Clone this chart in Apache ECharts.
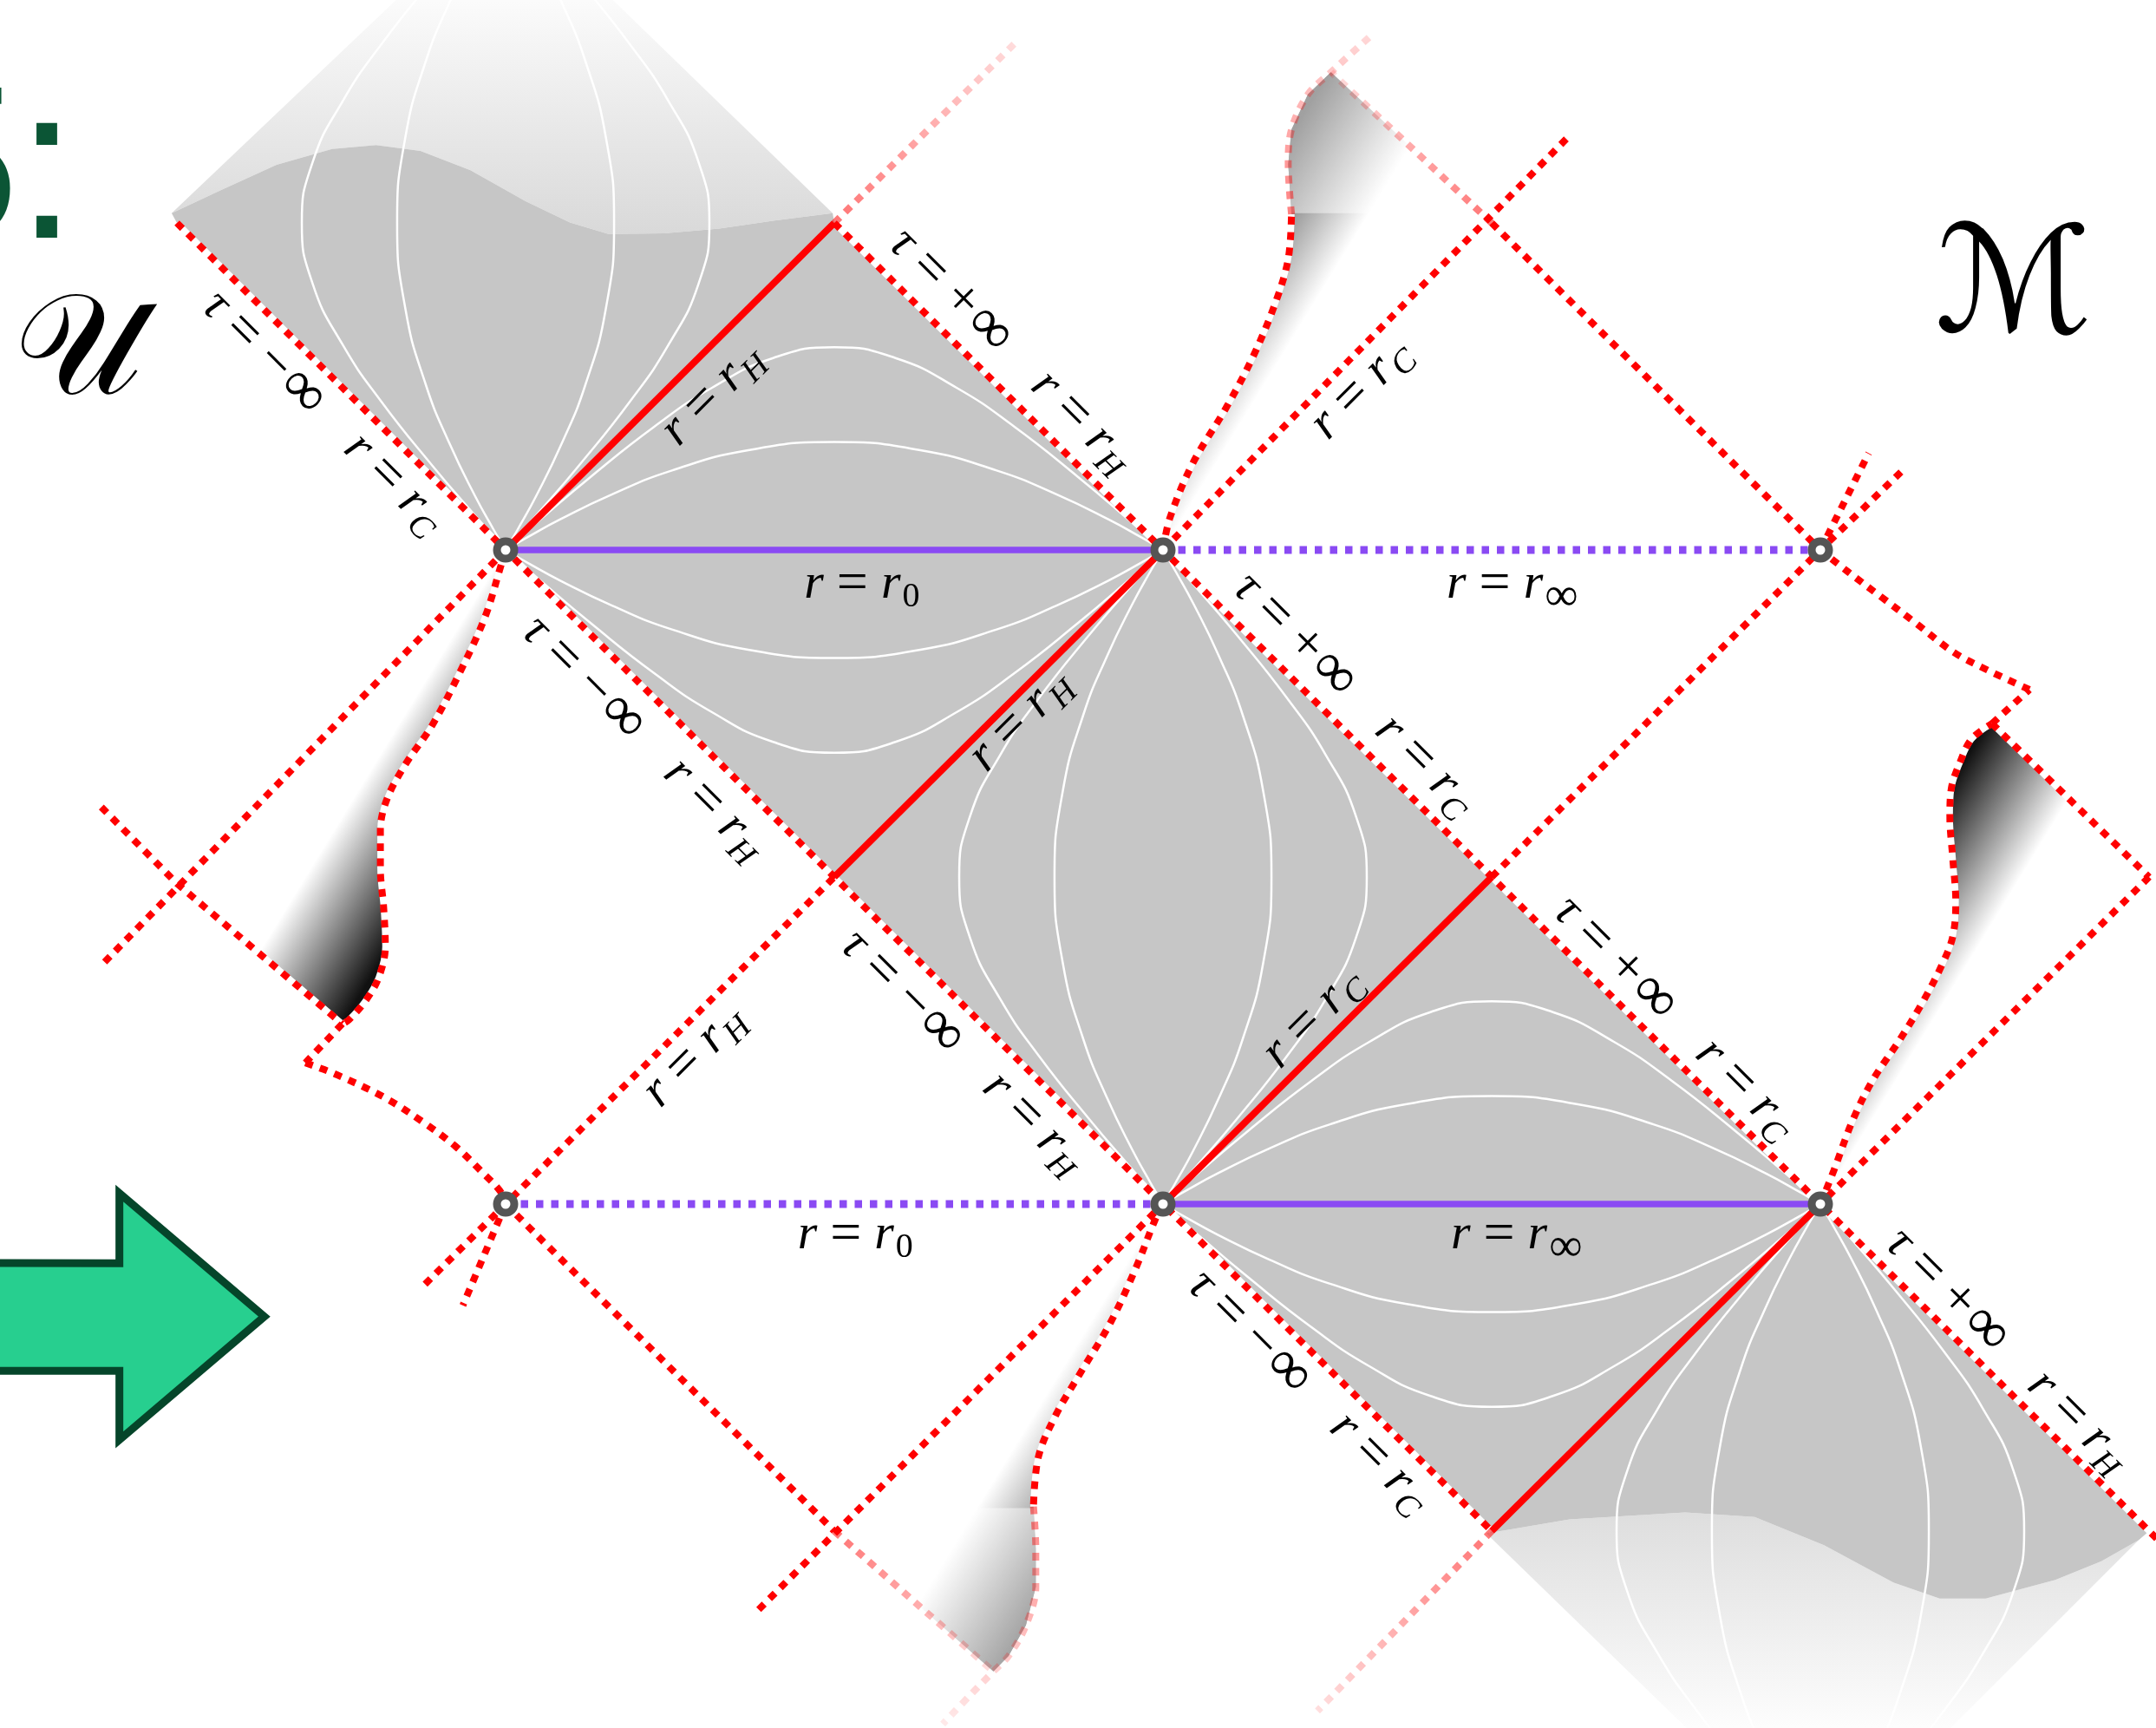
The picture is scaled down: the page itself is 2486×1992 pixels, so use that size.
<!DOCTYPE html>
<html>
<head>
<meta charset="utf-8">
<script src="https://cdn.jsdelivr.net/npm/echarts@6.0.0/dist/echarts.min.js"></script>
<style>html,body{margin:0;padding:0;background:#fff;}#chart{width:2486px;height:1992px;}</style>
</head>
<body>
<div id="chart"></div>
<script>
// ===== geometry (lattice units, nodes 2 apart) =====
const nodes = [[0,0],[2,0],[4,0],[0,-2],[2,-2],[4,-2]];
const purpleSolid = [[[0,0],[2,0]],[[2,-2],[4,-2]]];
const purpleDotted = [[[2,0],[4,0]],[[0,-2],[2,-2]]];
const redSolid = [[[0,0],[1,1]],[[1,-1],[2,0]],[[2,-2],[3,-1]],[[3,-3],[4,-2]]];
const redDotted = [
  [[-1,1],[3,-3]],
  [[1,1],[5.05,-3.05]],
  [[3,1],[4,0]],
  [[-1.23,-0.786],[-1.0,-1.02],[-0.497,-1.449]],
  [[0,-2],[1,-3]],
  [[-1.22,-1.26],[0,0]],
  [[-0.245,-2.245],[1,-1]],
  [[2,0],[3.23,1.26]],
  [[0.77,-3.24],[2,-2]],
  [[3,-1],[4,0],[4.257,0.25]],
  [[5,-1],[4,-2]],
  [[4.522,-0.531],[5,-1]],
  [[0,-2],[-0.13,-2.31]],
  [[4,0],[4.147,0.296]],
  [[-0.497,-1.449],[-0.609,-1.568]],
  [[4.522,-0.531],[4.636,-0.427]]
];
const hornA = [[0,0],[-0.012,-0.04],[-0.063,-0.206],[-0.144,-0.384],[-0.224,-0.537],[-0.305,-0.656],[-0.361,-0.762],[-0.381,-0.857],[-0.381,-0.976],[-0.371,-1.094],[-0.366,-1.212],[-0.386,-1.307],[-0.426,-1.378],[-0.477,-1.437],[-0.497,-1.449]];
const linkAD = [[-0.609,-1.568],[-0.515,-1.604],[-0.367,-1.675],[-0.246,-1.753],[-0.152,-1.824],[-0.071,-1.903],[-0.017,-1.96],[0,-2]];
const hornF = [[4,-2],[4.04,-1.9],[4.10,-1.74],[4.16,-1.62],[4.24,-1.5],[4.311,-1.383],[4.372,-1.264],[4.403,-1.181],[4.412,-1.075],[4.403,-0.945],[4.394,-0.814],[4.398,-0.732],[4.425,-0.649],[4.46,-0.578],[4.522,-0.531]];
const linkFC = [[4.636,-0.427],[4.506,-0.366],[4.406,-0.313],[4.287,-0.221],[4.187,-0.145],[4.087,-0.069],[4,0]];
const hornB = [[2,0],[2.021,0.098],[2.091,0.266],[2.191,0.433],[2.271,0.585],[2.341,0.753],[2.381,0.89],[2.391,1.027]];
const hornBFaded = [[2.391,1.027],[2.381,1.179],[2.391,1.286],[2.441,1.393],[2.511,1.461],[2.63,1.57]];
const hornE = [[2,-2],[1.976,-2.048],[1.916,-2.199],[1.84,-2.363],[1.749,-2.516],[1.674,-2.645],[1.621,-2.773],[1.606,-2.925]];
const hornEFaded = [[1.606,-2.925],[1.613,-3.054],[1.613,-3.171],[1.583,-3.288],[1.53,-3.382],[1.484,-3.429],[1.416,-3.499],[1.33,-3.59]];
const fadedLines = [[[1,1],[1.56,1.56]],[[3,1],[2.511,1.461]],[[1,-3],[1.484,-3.429]],[[3,-3],[2.47,-3.55]]];

const waveTop = [[-1.016,1.03],[-0.865,1.101],[-0.697,1.178],[-0.528,1.226],[-0.394,1.238],[-0.259,1.22],[-0.107,1.161],[0.061,1.066],[0.196,1.001],[0.313,0.966],[0.482,0.968],[0.65,0.983],[0.818,1.007],[0.995,1.03]];
const waveBottom = [[2.984,-3.007],[3.237,-2.964],[3.589,-2.943],[3.8,-2.957],[4.011,-3.043],[4.222,-3.157],[4.363,-3.206],[4.503,-3.206],[4.715,-3.149],[4.855,-3.092],[4.968,-3.028]];
const bandRight = [[1,1],[2,0],[3,-1],[4,-2],[5,-3]];
const bandLeft = [[3,-3],[2,-2],[1,-1],[0,0],[-1,1]];
const wedgeTop = [0,2];
const wedgeBottom = [4,-4];

const seamB = [[2.391,1.03],[2.381,1.179],[2.391,1.286],[2.441,1.393],[2.511,1.461],[2.97,1.03]];
const seamE = [[1.606,-2.93],[1.613,-3.054],[1.613,-3.171],[1.583,-3.288],[1.53,-3.382],[1.484,-3.429],[1,-3],[1.07,-2.93]];

// constant-r curve shapes (half curve, local diamond units)
const curveOuter = [[0,0.62],[0.186,0.587],[0.372,0.496],[0.549,0.376],[0.742,0.223],[0.889,0.098],[0.971,0.026],[1,0]];
const curveInner = [[0,0.33],[0.262,0.305],[0.494,0.243],[0.676,0.17],[0.835,0.093],[0.935,0.038],[0.983,0.01],[1,0]];
const curveDiamonds = [[1,0,'h'],[2,-1,'v'],[3,-2,'h'],[0,1,'v'],[4,-3,'v']];

const arrowShape = [[-1.591,-2.180],[-1.175,-2.181],[-1.175,-1.967],[-0.734,-2.344],[-1.175,-2.721],[-1.175,-2.510],[-1.591,-2.510]];

const labelPos = [[-0.555,0.42],[0.629,0.475],[1.537,0.609],[1.084,-0.106],[0.42,-0.576],[1.566,-0.522],[2.582,-0.442],[2.603,0.492],[3.063,-0.106],[0.574,-1.548],[1.39,-1.536],[2.457,-1.431],[3.557,-1.431],[1.064,-2.095],[3.076,-2.095],[2.444,-2.574],[4.569,-2.448]];
const labelAngle = [-45,45,-45,0,-45,45,-45,45,0,45,-45,45,-45,0,0,-45,-45];
const labelKind = ['tmC','rH','tpH','r0','tmH','rH','tpC','rC','rInf','rH','tmH','rC','tpC','r0','rInf','tmC','tpH'];

// ===== rendering =====
const X0PX = 583, Y0PX = 634, UX = 379, UY = 377, W = 2486, H = 1992;
const xMin = -X0PX / UX, xMax = (W - X0PX) / UX, yMax = Y0PX / UY, yMin = -(H - Y0PX) / UY;

const RED = '#ff0000', PURPLE = '#8a4af3', GREY = '#c6c6c6';
const DOT = [9, 8.7];

const labelText = {
  tmC: '{i|τ}{eq|=}{op|−}{inf|∞}{q| }{i|r}{eq|=}{i|r}{s|C}',
  tmH: '{i|τ}{eq|=}{op|−}{inf|∞}{q| }{i|r}{eq|=}{i|r}{s|H}',
  tpC: '{i|τ}{eq|=}{op|+}{inf|∞}{q| }{i|r}{eq|=}{i|r}{s|C}',
  tpH: '{i|τ}{eq|=}{op|+}{inf|∞}{q| }{i|r}{eq|=}{i|r}{s|H}',
  rH: '{i|r}{eq|=}{i|r}{s|H}',
  rC: '{i|r}{eq|=}{i|r}{s|C}',
  r0: '{i|r}{eq|=}{i|r}{sn|0}',
  rInf: '{i|r}{eq|=}{i|r}{sinf|∞}'
};
const SERIF = '"Liberation Serif", "DejaVu Serif", serif';
const rich = {
  i: {fontFamily: SERIF, fontStyle: 'italic', fontSize: 58, lineHeight: 64, fill: '#000', color: '#000'},
  eq: {fontFamily: SERIF, fontSize: 64, lineHeight: 64, padding: [0, 15, 0, 15], fill: '#000', color: '#000'},
  op: {fontFamily: SERIF, fontSize: 62, lineHeight: 64, padding: [0, 3, 0, 1], fill: '#000', color: '#000'},
  inf: {fontFamily: SERIF, fontSize: 70, lineHeight: 64, padding: [0, 1, 0, 1], fill: '#000', color: '#000'},
  q: {fontFamily: SERIF, fontSize: 56, lineHeight: 64, padding: [0, 20, 0, 20]},
  s: {fontFamily: SERIF, fontStyle: 'italic', fontSize: 39, lineHeight: 64, padding: [30, 0, 0, 2], fill: '#000', color: '#000'},
  sn: {fontFamily: SERIF, fontSize: 40, lineHeight: 64, padding: [30, 0, 0, 2], fill: '#000', color: '#000'},
  sinf: {fontFamily: SERIF, fontSize: 54, lineHeight: 64, padding: [30, 0, 0, 2], fill: '#000', color: '#000'}
};

const series = [];

function poly(pts, z, styleFn) {
  series.push({
    type: 'custom', coordinateSystem: 'cartesian2d', z: z, silent: true, animation: false,
    data: [pts[0]],
    renderItem: function (params, api) {
      return {type: 'polygon', shape: {points: pts.map(p => api.coord(p))}, style: styleFn(api)};
    }
  });
}
function lin(pts, z, lineStyle, smooth) {
  series.push({
    type: 'line', data: pts, z: z, silent: true, animation: false, symbol: 'none', showSymbol: false,
    smooth: smooth || false, lineStyle: lineStyle
  });
}
function grad(api, a, b, stops) {
  const p = api.coord(a), q = api.coord(b);
  return {type: 'linear', x: p[0], y: p[1], x2: q[0], y2: q[1], global: true,
    colorStops: stops.map((c, k) => ({offset: k / (stops.length - 1), color: c}))};
}

// light fading wedges
poly(waveTop.concat([wedgeTop]), 1, api => ({fill: grad(api, [0, 0.97], [0, 1.68], ['#d9d9d9', '#fbfbfb'])}));
poly(waveBottom.concat([wedgeBottom]), 1, api => ({fill: grad(api, [0, -2.95], [0, -3.6], ['#dedede', '#fdfdfd'])}));
// grey band
poly(waveTop.concat(bandRight, waveBottom.slice().reverse(), bandLeft), 2, () => ({fill: GREY}));
// horns
poly(hornA.concat([[-1.0, -1.02]]), 3, api => ({fill: grad(api, [-0.727, -1.193], [-0.446, -1.366], ['#ffffff', '#111111'])}));
poly(hornF.concat([[5, -1]]), 3, api => ({fill: grad(api, [4.727, -0.807], [4.446, -0.634], ['#ffffff', '#111111'])}));
poly(hornB.concat(hornBFaded.slice(1, 5), [[3, 1]]), 3, api => ({fill: grad(api, [2.727, 1.193], [2.446, 1.366], ['#ffffff', '#111111']), opacity: 0.72}));
poly(hornE.concat(hornEFaded.slice(1, 6), [[1, -3]]), 3, api => ({fill: grad(api, [1.273, -3.193], [1.554, -3.366], ['#ffffff', '#111111']), opacity: 0.72}));
poly(seamB, 3.5, () => ({fill: 'rgba(255,255,255,0.45)'}));
poly(seamE, 3.5, () => ({fill: 'rgba(255,255,255,0.45)'}));

// white constant-r curves
curveDiamonds.forEach(([cx, cy, o]) => {
  [curveOuter, curveInner].forEach(t => {
    [1, -1].forEach(s => {
      const full = t.slice(1).reverse().map(p => [-p[0], p[1]]).concat(t);
      const pts = full.map(([X, Y]) => o === 'h' ? [cx + X, cy + s * Y] : [cx + s * Y, cy + X]);
      lin(pts, 4, {color: '#ffffff', width: 2.5}, 0.5);
    });
  });
});

// white under-strokes for dotted red lines
const dottedCurves = [hornA, linkAD, hornF, linkFC, hornB, hornE];
redDotted.forEach(p => lin(p, 4.5, {color: '#ffffff', width: 7}));
dottedCurves.forEach(p => lin(p, 4.5, {color: '#ffffff', width: 7}, 0.35));

// purple lines
purpleSolid.forEach(p => lin(p, 5, {color: PURPLE, width: 7.5}));
purpleDotted.forEach(p => lin(p, 5, {color: PURPLE, width: 9, type: [8.5, 9]}));
// red solid lines
redSolid.forEach(p => lin(p, 6, {color: RED, width: 8}));
// red dotted lines
redDotted.forEach(p => lin(p, 7, {color: RED, width: 8, type: DOT}));
dottedCurves.forEach(p => lin(p, 7, {color: RED, width: 8, type: DOT}, 0.35));
// faded dotted lines
fadedLines.forEach(([s, e]) => {
  const gx = s[0] < e[0] ? 0 : 1, gy = s[1] < e[1] ? 1 : 0;
  lin([s, e], 7, {width: 8, type: DOT, color: {type: 'linear', x: gx, y: gy, x2: 1 - gx, y2: 1 - gy,
    colorStops: [{offset: 0, color: 'rgba(255,0,0,0.55)'}, {offset: 1, color: 'rgba(255,0,0,0.12)'}]}});
});
lin(hornBFaded, 7, {width: 8, type: DOT, color: {type: 'linear', x: 0, y: 1, x2: 0, y2: 0,
  colorStops: [{offset: 0, color: 'rgba(255,0,0,0.5)'}, {offset: 1, color: 'rgba(255,0,0,0.15)'}]}}, 0.35);
lin(hornEFaded, 7, {width: 8, type: DOT, color: {type: 'linear', x: 0, y: 0, x2: 0, y2: 1,
  colorStops: [{offset: 0, color: 'rgba(255,0,0,0.5)'}, {offset: 1, color: 'rgba(255,0,0,0.08)'}]}}, 0.35);

// green arrow
poly(arrowShape, 8, () => ({fill: '#27cf8f', stroke: '#05452a', lineWidth: 9, lineJoin: 'miter'}));

// nodes
series.push({type: 'scatter', data: nodes, z: 9, silent: true, animation: false, symbol: 'circle', symbolSize: 20,
  itemStyle: {color: '#ffffff', borderColor: '#555555', borderWidth: 9, opacity: 1}});

// labels
series.push({
  type: 'custom', coordinateSystem: 'cartesian2d', z: 10, silent: true, animation: false,
  data: labelPos,
  renderItem: function (params, api) {
    const i = params.dataIndex, c = api.coord(labelPos[i]);
    return {type: 'text', x: c[0], y: c[1], rotation: labelAngle[i] * Math.PI / 180,
      style: {text: labelText[labelKind[i]], rich: rich, align: 'center', verticalAlign: 'middle',
        textAlign: 'center', textVerticalAlign: 'middle', fill: '#000'}};
  }
});

const mid = {align: 'center', verticalAlign: 'middle', textAlign: 'center', textVerticalAlign: 'middle'};
const chart = echarts.init(document.getElementById('chart'), null, {renderer: 'canvas'});
chart.setOption({
  animation: false,
  backgroundColor: '#ffffff',
  grid: {left: 0, right: 0, top: 0, bottom: 0, show: false},
  xAxis: {type: 'value', min: xMin, max: xMax, show: false},
  yAxis: {type: 'value', min: yMin, max: yMax, show: false},
  graphic: [
    {type: 'text', x: 22, y: 205, z: 100, style: {text: '5', font: '250px "Liberation Sans", sans-serif', fill: '#0b5535',
      align: 'right', verticalAlign: 'middle', textAlign: 'right', textVerticalAlign: 'middle'}},
    {type: 'text', x: 54, y: 205, z: 100, style: Object.assign({text: ':', font: '250px "Liberation Sans", sans-serif', fill: '#0b5535'}, mid)},
    {type: 'text', x: 90, y: 410, z: 100, style: Object.assign({text: '𝒰', font: '165px "DejaVu Sans", "DejaVu Serif", "Noto Sans", serif', fill: '#000'}, mid)},
    {type: 'text', x: 2322, y: 338, z: 100, style: Object.assign({text: 'ℳ', font: '170px "DejaVu Serif", "DejaVu Sans", serif', fill: '#000'}, mid)}
  ],
  series: series
});
</script>
</body>
</html>
